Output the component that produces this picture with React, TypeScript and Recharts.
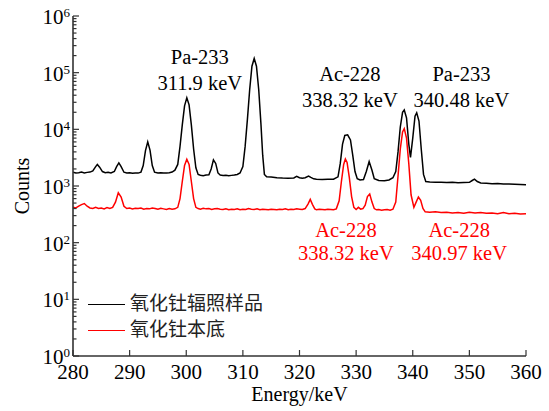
import React from "react";
import {
  Legend,
  Line,
  LineChart,
  ReferenceDot,
  XAxis,
  YAxis,
} from "recharts";

// black: 氧化钍辐照样品 (energy keV, counts)
const blackEnergy = [
  280, 280.5, 281, 281.5, 282, 282.5, 283, 283.5, 284, 284.3, 284.7, 285.2, 285.7, 286.2, 286.7, 287.3,
  287.7, 288.1, 288.5, 289, 289.5, 290, 290.5, 291, 291.5, 292, 292.4, 292.8, 293.2, 293.6, 294, 294.4,
  295, 295.5, 296, 296.5, 297, 297.5, 298, 298.5, 298.9, 299.3, 299.7, 300.1, 300.5, 300.9, 301.3, 301.7,
  302.1, 302.5, 303, 303.5, 304, 304.4, 304.8, 305.2, 305.6, 306, 306.5, 307, 307.5, 308, 308.5, 309,
  309.5, 310, 310.4, 310.8, 311.2, 311.6, 312, 312.4, 312.8, 313.2, 313.5, 313.8, 314.2, 315, 316, 317,
  318, 319, 319.5, 320, 320.5, 321, 321.6, 322, 322.5, 323, 324, 325, 326, 326.8, 327.2, 327.6,
  328, 328.5, 329, 329.4, 329.8, 330.2, 330.7, 331.3, 331.8, 332.3, 332.8, 333.2, 334, 335, 335.8, 336.5,
  337, 337.4, 337.8, 338.2, 338.5, 338.9, 339.3, 339.6, 340, 340.4, 340.7, 341.1, 341.5, 341.9, 342.3, 343,
  344, 345, 346, 347, 348, 349, 350, 350.5, 350.9, 351.4, 352, 353, 354, 355, 356, 357,
  358, 359, 360,
];
const blackCounts = [
  1750, 1700, 1720, 1760, 1700, 1740, 1760, 1850, 2200, 2400, 2150, 1800, 1720, 1740, 1700, 1800,
  2200, 2550, 2200, 1750, 1700, 1710, 1680, 1700, 1690, 1760, 2300, 4200, 6000, 4300, 2300, 1750,
  1700, 1710, 1690, 1700, 1720, 1760, 1900, 2400, 5000, 12000, 26000, 36000, 27000, 12000, 4500, 2100,
  1600, 1550, 1520, 1560, 1580, 2000, 2900, 2500, 1700, 1560, 1540, 1550, 1520, 1540, 1560, 1600,
  1700, 2200, 5000, 15000, 50000, 130000, 178000, 130000, 50000, 12000, 3500, 1600, 1450, 1440, 1400, 1380,
  1370, 1390, 1480, 1400, 1370, 1400, 1500, 1420, 1340, 1320, 1300, 1310, 1320, 1450, 2500, 5500,
  7800, 8000, 6500, 3500, 1800, 1350, 1280, 1300, 1800, 2700, 1900, 1350, 1250, 1240, 1280, 1400,
  1800, 4000, 11000, 20000, 22000, 16000, 5500, 3200, 7000, 17000, 19600, 14000, 4500, 1600, 1200, 1180,
  1160, 1170, 1150, 1160, 1140, 1150, 1160, 1250, 1320, 1200, 1130, 1120, 1100, 1110, 1090, 1080,
  1070, 1060, 1050,
];

// red: 氧化钍本底
const redEnergy = [
  280, 280.5, 281, 281.5, 282, 282.5, 283, 283.5, 284, 284.5, 285, 285.5, 286, 286.5, 287, 287.5,
  288, 288.5, 289, 289.5, 290, 290.5, 291, 291.5, 292, 292.5, 293, 293.5, 294, 294.5, 295, 295.5,
  296, 296.5, 297, 297.5, 298, 298.5, 298.9, 299.3, 299.7, 300.1, 300.5, 300.9, 301.3, 301.7, 302.1, 302.5,
  303, 303.5, 304, 304.5, 305, 305.5, 306, 306.5, 307, 307.5, 308, 308.5, 309, 309.5, 310, 310.5,
  311, 311.5, 312, 312.5, 313, 313.5, 314, 314.5, 315, 315.5, 316, 316.5, 317, 317.5, 318, 318.5,
  319, 319.5, 320, 320.5, 321, 321.5, 321.9, 322.3, 322.7, 323, 323.5, 324, 324.5, 325, 325.5, 326,
  326.5, 327, 327.4, 327.8, 328.1, 328.4, 328.8, 329.2, 329.6, 330, 330.4, 330.8, 331.2, 331.6, 332, 332.4,
  332.8, 333.2, 333.6, 334, 334.5, 335, 335.5, 336, 336.5, 337, 337.4, 337.8, 338.2, 338.5, 338.9, 339.3,
  339.7, 340.2, 340.6, 341, 341.4, 341.8, 342.2, 343, 344, 345, 346, 347, 348, 349, 350, 351,
  352, 353, 354, 355, 356, 357, 358, 359, 360,
];
const redCounts = [
  420, 410, 440, 470, 490, 440, 410, 400, 420, 400, 410, 395, 415, 400, 420, 520,
  760, 640, 440, 400, 410, 395, 405, 400, 410, 390, 400, 395, 410, 400, 390, 405,
  395, 385, 400, 390, 395, 420, 600, 1200, 2300, 2970, 2400, 1200, 600, 420, 400, 390,
  405, 395, 400, 385, 395, 400, 390, 385, 395, 380, 390, 385, 395, 380, 390, 385,
  400, 390, 385, 395, 380, 390, 385, 380, 390, 385, 380, 390, 385, 395, 380, 390,
  385, 395, 390, 385, 400, 480, 580, 470, 395, 380, 390, 385, 380, 390, 385, 380,
  395, 550, 1200, 2400, 3000, 2600, 1400, 650, 420, 385, 420, 390, 400, 460, 650, 720,
  520, 400, 380, 385, 375, 380, 385, 375, 390, 520, 1500, 4500, 9000, 10300, 7000, 2500,
  700, 420, 520, 640, 560, 400, 350, 345, 350, 340, 345, 335, 340, 330, 345, 335,
  340, 330, 335, 325, 340, 325, 330, 320, 325,
];

const xTicks = [280, 290, 300, 310, 320, 330, 340, 350, 360];
const decades = [0, 1, 2, 3, 4, 5, 6];

const legendItems = [
  { label: "氧化钍辐照样品", color: "#000" },
  { label: "氧化钍本底", color: "#ff0000" },
];

// peak labels: centre position in data units
const notes = [
  { lines: ["Pa-233", "311.9 keV"], x: 302.4, y: [187000, 65000], color: "#000" },
  { lines: ["Ac-228", "338.32 keV"], x: 328.9, y: [93800, 32600], color: "#000" },
  { lines: ["Pa-233", "340.48 keV"], x: 348.6, y: [93800, 32600], color: "#000" },
  { lines: ["Ac-228", "338.32 keV"], x: 328.2, y: [166, 65], color: "#ff0000" },
  { lines: ["Ac-228", "340.97 keV"], x: 348.2, y: [166, 65], color: "#ff0000" },
];

const blackData = blackEnergy.map((e, i) => ({ energy: e, counts: blackCounts[i] }));
const redData = redEnergy.map((e, i) => ({ energy: e, counts: redCounts[i] }));

const yTicks: number[] = [];
decades.forEach((d) => {
  yTicks.push(Math.pow(10, d));
  if (d < 6) for (let k = 2; k <= 9; k++) yTicks.push(k * Math.pow(10, d));
});

const SERIF = "'Liberation Serif', 'Times New Roman', serif";
const CJK = "'Noto Sans CJK SC', sans-serif";
const AXIS = "#333";

function YTick(props: any) {
  const { x, y, payload } = props;
  const v = payload.value as number;
  const exp = Math.log10(v);
  const major = Math.abs(exp - Math.round(exp)) < 1e-9;
  return (
    <g>
      <line x1={x} x2={x + (major ? 6 : 3.5)} y1={y} y2={y} stroke={AXIS} strokeWidth={1.2} />
      {major && (
        <text x={x - 3} y={y + 8} textAnchor="end" style={{ fontFamily: SERIF, fontSize: 21 }} fill="#000">
          10
          <tspan dy={-7} style={{ fontSize: 13 }}>
            {Math.round(exp)}
          </tspan>
        </text>
      )}
    </g>
  );
}

function XTick(props: any) {
  const { x, y, payload } = props;
  return (
    <g>
      <line x1={x} x2={x} y1={y} y2={y - 6} stroke={AXIS} strokeWidth={1.2} />
      <text x={x} y={y + 23} textAnchor="middle" style={{ fontFamily: SERIF, fontSize: 21 }} fill="#000">
        {payload.value}
      </text>
    </g>
  );
}

function NoteShape(note: (typeof notes)[number], row: number) {
  return (props: any) => (
    <text
      x={props.cx}
      y={props.cy + 7}
      textAnchor="middle"
      style={{ fontFamily: SERIF, fontSize: 20.5 }}
      fill={note.color}
    >
      {note.lines[row]}
    </text>
  );
}

function LegendBox() {
  return (
    <div style={{ fontFamily: CJK, fontSize: 19, lineHeight: "26px" }}>
      {legendItems.map((p) => (
        <div key={p.label} style={{ display: "flex", alignItems: "center", height: 26 }}>
          <span
            style={{
              display: "inline-block",
              width: 37,
              height: 0,
              borderTop: `1.6px solid ${p.color}`,
              marginRight: 5,
              marginTop: 5,
            }}
          />
          <span style={{ color: "#222" }}>{p.label}</span>
        </div>
      ))}
    </div>
  );
}

export default function App() {
  return (
    <div style={{ position: "absolute", left: 0, top: 0, width: 549, height: 411, background: "#fff" }}>
      <LineChart width={549} height={411} margin={{ top: 16, right: 23, bottom: 25, left: 13 }}>
        <XAxis
          dataKey="energy"
          type="number"
          domain={[280, 360]}
          ticks={xTicks}
          interval={0}
          tick={<XTick />}
          tickLine={false}
          tickSize={0}
          tickMargin={0}
          height={30}
          axisLine={{ stroke: AXIS, strokeWidth: 1.6 }}
          allowDataOverflow
          label={{
            content: (p: any) => (
              <text
                x={p.viewBox.x + p.viewBox.width / 2}
                y={p.viewBox.y + 45}
                textAnchor="middle"
                style={{ fontFamily: SERIF, fontSize: 20 }}
                fill="#000"
              >
                Energy/keV
              </text>
            ),
          }}
        />
        <XAxis
          xAxisId="top"
          orientation="top"
          type="number"
          domain={[280, 360]}
          tick={false}
          tickLine={false}
          height={0}
          axisLine={{ stroke: AXIS, strokeWidth: 1.6 }}
        />
        <YAxis
          scale="log"
          type="number"
          domain={[1, 1000000]}
          ticks={yTicks}
          interval={0}
          tick={<YTick />}
          tickLine={false}
          tickSize={0}
          tickMargin={0}
          width={60}
          allowDataOverflow
          axisLine={{ stroke: AXIS, strokeWidth: 1.6 }}
          label={{
            content: () => (
              <text
                x={29}
                y={186}
                transform="rotate(-90, 29, 186)"
                textAnchor="middle"
                style={{ fontFamily: SERIF, fontSize: 20 }}
                fill="#000"
              >
                Counts
              </text>
            ),
          }}
        />
        <YAxis
          yAxisId="right"
          orientation="right"
          scale="log"
          type="number"
          domain={[1, 1000000]}
          tick={false}
          tickLine={false}
          width={0}
          axisLine={{ stroke: AXIS, strokeWidth: 1.6 }}
        />
        <Line
          data={blackData}
          dataKey="counts"
          name="氧化钍辐照样品"
          type="linear"
          stroke="#000"
          strokeWidth={1.5}
          dot={false}
          isAnimationActive={false}
        />
        <Line
          data={redData}
          dataKey="counts"
          name="氧化钍本底"
          type="linear"
          stroke="#ff0000"
          strokeWidth={1.5}
          dot={false}
          isAnimationActive={false}
        />
        {notes.map((n, i) =>
          n.lines.map((_, r) => (
            <ReferenceDot
              key={`${i}-${r}`}
              x={n.x}
              y={n.y[r]}
              r={0}
              ifOverflow="visible"
              shape={NoteShape(n, r)}
            />
          ))
        )}
        <Legend
          layout="horizontal"
          verticalAlign="middle"
          align="center"
          content={<LegendBox />}
          wrapperStyle={{ position: "absolute", left: 88, top: 289, width: 200 }}
        />
      </LineChart>
    </div>
  );
}
